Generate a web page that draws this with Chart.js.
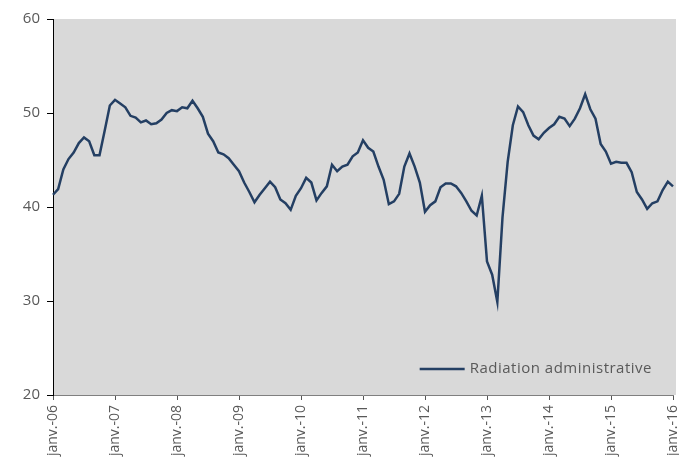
<!DOCTYPE html>
<html>
<head>
<meta charset="utf-8">
<script src="https://cdn.jsdelivr.net/npm/chart.js@4/dist/chart.umd.min.js"></script>
<style>
    html, body { margin: 0; padding: 0; background: #fff; }
    #wrap { width: 679px; height: 464px; }
</style>
</head>
<body>
<div id="wrap"><canvas id="chart"></canvas></div>
<script>
// Monthly series, janv. 2006 -> janv. 2016
const years = ['06', '07', '08', '09', '10', '11', '12', '13', '14', '15', '16'];
const monthNames = ['janv.', 'févr.', 'mars', 'avr.', 'mai', 'juin', 'juil.', 'août', 'sept.', 'oct.', 'nov.', 'déc.'];
const months = [];
years.forEach((y, yi) => {
    monthNames.forEach((m, mi) => {
        if (yi < years.length - 1 || mi === 0) months.push(m + '-' + y);
    });
});

const seriesLabel = 'Radiation administrative';
const radiation = [
    41.3, 41.9, 44.0, 45.1, 45.8, 46.8, 47.4, 47.0, 45.5, 45.5, 48.1, 50.8,
    51.4, 51.0, 50.6, 49.7, 49.5, 49.0, 49.2, 48.8, 48.9, 49.3, 50.0, 50.3,
    50.2, 50.6, 50.5, 51.3, 50.5, 49.6, 47.8, 47.0, 45.8, 45.6, 45.2, 44.5,
    43.8, 42.6, 41.6, 40.5, 41.3, 42.0, 42.7, 42.1, 40.8, 40.4, 39.7, 41.2,
    42.0, 43.1, 42.6, 40.7, 41.5, 42.2, 44.5, 43.8, 44.3, 44.5, 45.4, 45.8,
    47.1, 46.3, 45.9, 44.3, 42.9, 40.3, 40.6, 41.4, 44.3, 45.7, 44.3, 42.6,
    39.5, 40.2, 40.6, 42.1, 42.5, 42.5, 42.2, 41.5, 40.6, 39.6, 39.1, 41.2,
    34.2, 32.8, 29.9, 38.9, 44.8, 48.7, 50.7, 50.1, 48.7, 47.6, 47.2, 47.9,
    48.4, 48.8, 49.6, 49.4, 48.6, 49.4, 50.5, 52.0, 50.4, 49.4, 46.7, 45.9,
    44.6, 44.8, 44.7, 44.7, 43.7, 41.6, 40.8, 39.8, 40.4, 40.6, 41.8, 42.7,
    42.2
];

const yMin = 20, yMax = 60, yStep = 10;
const lineColor = '#243f63';
const textColor = '#595959';

// grey plot background
const plotBackground = {
    id: 'plotBackground',
    beforeDraw(chart) {
        const { ctx, chartArea: a } = chart;
        ctx.save();
        ctx.fillStyle = '#d9d9d9';
        ctx.fillRect(a.left, a.top, a.right - a.left + 3, a.bottom - a.top);
        ctx.restore();
    }
};

// legend drawn inside the plot, bottom right
const innerLegend = {
    id: 'innerLegend',
    afterDraw(chart) {
        const { ctx, chartArea: a } = chart;
        const ds = chart.data.datasets[0];
        ctx.save();
        ctx.font = '15px "Open Sans"';
        if ('letterSpacing' in ctx) ctx.letterSpacing = '0.5px';
        ctx.textBaseline = 'middle';
        ctx.textAlign = 'left';
        const y = a.bottom - 26;
        const textRight = a.right - 21;
        const w = ctx.measureText(ds.label).width;
        ctx.fillStyle = textColor;
        ctx.fillText(ds.label, textRight - w, y);
        ctx.strokeStyle = ds.borderColor;
        ctx.lineWidth = 2.5;
        ctx.beginPath();
        ctx.moveTo(textRight - w - 50, y);
        ctx.lineTo(textRight - w - 5, y);
        ctx.stroke();
        ctx.restore();
    }
};

document.addEventListener('DOMContentLoaded', function() {
    const ctx = document.getElementById('chart');
    new Chart(ctx, {
        type: 'line',
        data: {
            labels: months,
            datasets: [{
                label: seriesLabel,
                data: radiation,
                borderColor: lineColor,
                borderWidth: 2.5,
                pointRadius: 0,
                tension: 0,
                fill: false
            }]
        },
        options: {
            responsive: true,
            maintainAspectRatio: false,
            animation: false,
            layout: { padding: { top: 19, right: 6, left: 0, bottom: 0 } },
            plugins: {
                legend: { display: false },
                tooltip: { enabled: false }
            },
            scales: {
                x: {
                    type: 'category',
                    offset: false,
                    afterBuildTicks: axis => {
                        axis.ticks = axis.ticks.filter(t => t.value % 12 === 0);
                    },
                    afterFit: scale => {
                        scale.height = 69;
                        scale.paddingLeft = 0;
                        scale.paddingRight = 0;
                    },
                    grid: {
                        drawOnChartArea: false,
                        drawTicks: true,
                        tickLength: 5,
                        color: '#555'
                    },
                    border: { display: true, color: '#7f7f7f', width: 1 },
                    ticks: {
                        autoSkip: false,
                        maxRotation: 90,
                        minRotation: 90,
                        padding: 5,
                        color: textColor,
                        font: { family: 'Open Sans', size: 14 }
                    }
                },
                y: {
                    min: yMin,
                    max: yMax,
                    afterFit: scale => { scale.width = 53; },
                    grid: {
                        drawOnChartArea: false,
                        drawTicks: true,
                        tickLength: 6,
                        color: '#000'
                    },
                    border: { display: true, color: '#000', width: 1 },
                    ticks: {
                        stepSize: yStep,
                        padding: 7,
                        color: textColor,
                        font: { family: 'Open Sans', size: 15 }
                    }
                }
            }
        },
        plugins: [plotBackground, innerLegend]
    });
});
</script>
</body>
</html>
